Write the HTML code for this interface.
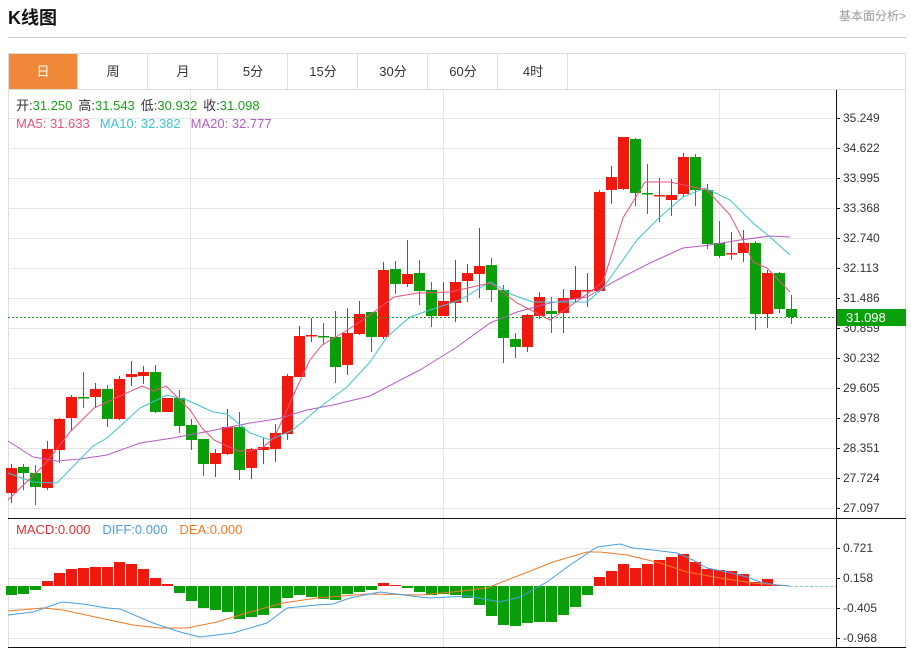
<!DOCTYPE html>
<html><head><meta charset="utf-8">
<style>
body{margin:0;background:#fff;width:911px;height:651px;overflow:hidden;font-family:"Liberation Sans","Noto Sans CJK SC",sans-serif;}
svg text{font-family:"Liberation Sans","Noto Sans CJK SC",sans-serif;}
</style></head><body>
<svg id="s" width="911" height="651" xmlns="http://www.w3.org/2000/svg">
<text x="8" y="24" font-size="18" font-weight="bold" fill="#111">K线图</text>
<text x="906" y="20" font-size="12" fill="#999" text-anchor="end">基本面分析&gt;</text>
<line x1="8" y1="37.5" x2="906" y2="37.5" stroke="#ccc"/>
<rect x="8.5" y="53.5" width="897" height="594" fill="none" stroke="#ddd"/>
<rect x="9" y="54" width="68" height="35" fill="#f0883a"/>
<g font-size="13" fill="#333" text-anchor="middle">
<text x="43" y="76" fill="#fff">日</text><text x="113" y="76">周</text><text x="183" y="76">月</text><text x="253" y="76">5分</text><text x="323" y="76">15分</text><text x="393" y="76">30分</text><text x="463" y="76">60分</text><text x="533" y="76">4时</text>
</g>
<g stroke="#ddd"><line x1="77.5" y1="54" x2="77.5" y2="89"/><line x1="147.5" y1="54" x2="147.5" y2="89"/><line x1="217.5" y1="54" x2="217.5" y2="89"/><line x1="287.5" y1="54" x2="287.5" y2="89"/><line x1="357.5" y1="54" x2="357.5" y2="89"/><line x1="427.5" y1="54" x2="427.5" y2="89"/><line x1="497.5" y1="54" x2="497.5" y2="89"/><line x1="567.5" y1="54" x2="567.5" y2="89"/><line x1="8" y1="89.5" x2="906" y2="89.5"/></g>
<g id="g"></g>
<g font-size="13">
<text x="16" y="110"><tspan fill="#333">开:</tspan><tspan fill="#1a9e1a">31.250</tspan><tspan fill="#333" dx="6">高:</tspan><tspan fill="#1a9e1a">31.543</tspan><tspan fill="#333" dx="6">低:</tspan><tspan fill="#1a9e1a">30.932</tspan><tspan fill="#333" dx="6">收:</tspan><tspan fill="#1a9e1a">31.098</tspan></text>
<text x="16" y="128"><tspan fill="#e8507f">MA5: 31.633</tspan><tspan fill="#3cc3d3" dx="10">MA10: 32.382</tspan><tspan fill="#b45cc4" dx="10">MA20: 32.777</tspan></text>
<text x="16" y="534"><tspan fill="#e03030">MACD:0.000</tspan><tspan fill="#4a9ee0" dx="12">DIFF:0.000</tspan><tspan fill="#f07a28" dx="12">DEA:0.000</tspan></text>
</g>
</svg>
<script>
var g=document.getElementById('g'),h='';
function L(x1,y1,x2,y2,c,extra){h+='<line x1="'+x1+'" y1="'+y1+'" x2="'+x2+'" y2="'+y2+'" stroke="'+c+'" '+(extra||'')+'/>';}
// grids
for(var i=0;i<14;i++){var y=118+i*30;L(8,y+.5,836,y+.5,'#e6e6e6');}
[548,578,608,638].forEach(function(y){L(8,y+.5,836,y+.5,'#e6e6e6');});
[190,443,719].forEach(function(x){L(x+.5,90,x+.5,648,'#e6e6e6');});
L(8,518.5,906,518.5,'#111');L(8,647.5,906,647.5,'#111');
L(836.5,90,836.5,648,'#111');
var labs=['35.249','34.622','33.995','33.368','32.740','32.113','31.486','30.859','30.232','29.605','28.978','28.351','27.724','27.097'];
labs.forEach(function(t,i){var y=118+i*30;L(836,y+.5,840,y+.5,'#111');h+='<text x="843" y="'+(y+4)+'" font-size="12" fill="#333">'+t+'</text>';});
[['0.721',548],['0.158',578],['-0.405',608],['-0.968',638]].forEach(function(a){L(836,a[1]+.5,840,a[1]+.5,'#111');h+='<text x="843" y="'+(a[1]+4)+'" font-size="12" fill="#333">'+a[0]+'</text>';});
// candles: [bodyTop, bodyBottom, high, low, red?]
var C=[[468,493,464,503,1],[467,473,464,490,0],[473,487,465,505,0],[449,488,441,490,1],[419,450,418,463,1],[397,418,395,431,1],[397,397,372,408,0],[389,397,383,408,1],[389,419,385,427,0],[379,419,376,420,1],[374,377,361,386,1],[372,376,366,384,1],[372,412,365,413,0],[398,412,398,412,1],[398,426,390,433,0],[425,440,419,450,0],[439,464,439,476,0],[453,464,449,477,1],[427,454,409,455,1],[427,470,412,480,0],[449,468,448,479,1],[447,450,438,464,1],[433,449,424,462,1],[376,434,374,440,1],[336,377,326,377,1],[335,335,318,342,1],[336,336,323,345,0],[337,367,311,383,0],[333,365,308,375,1],[314,334,301,335,1],[312,337,312,352,0],[270,337,262,339,1],[269,284,261,294,0],[274,284,240,287,1],[273,291,260,305,0],[290,316,282,327,0],[301,316,282,316,1],[282,303,260,322,1],[273,281,264,302,1],[266,274,228,298,1],[265,290,258,302,0],[290,338,285,363,0],[339,347,333,358,0],[315,347,314,352,1],[297,316,292,319,1],[311,314,297,333,0],[298,313,289,333,1],[290,299,266,302,1],[290,290,273,307,1],[192,291,190,292,1],[177,190,166,204,1],[137,189,137,190,1],[139,193,138,206,0],[193,193,164,214,0],[195,195,178,222,1],[195,200,179,216,1],[157,194,153,197,1],[157,190,154,206,0],[190,244,184,249,0],[243,256,221,258,0],[253,253,232,260,1],[243,253,230,262,1],[243,314,241,330,0],[273,314,270,328,1],[273,309,272,313,0],[309,317,295,324,0]];
C.forEach(function(c,i){var x=11+i*12,col=c[4]?'#f0190f':'#0a9e0a';L(x+.5,c[2],x+.5,c[3],col);var bh=Math.max(c[1]-c[0],1.5);h+='<rect x="'+(x-5)+'" y="'+c[0]+'" width="11" height="'+bh+'" fill="'+col+'"/>';});
function P(pts,c){h+='<polyline fill="none" stroke="'+c+'" stroke-width="1" points="'+pts+'"/>';}
P('8,441 33,457 57,461 80,459 107,455 140,443 173,438 210,431 250,423 277,419 307,410 333,405 370,396 410,375 420,370 457,347 490,323 517,312 550,303 587,297 617,280 650,263 683,248 710,245 740,240 770,236 790,237','#b45cc4');
P('8,473 33,482 57,483 93,446 107,438 140,408 167,395 187,400 213,412 227,414 250,433 270,440 293,430 320,407 347,387 370,362 387,337 410,317 430,310 460,300 490,282 513,295 533,302 567,302 587,302 603,288 637,240 660,217 683,197 705,188 730,200 753,223 770,237 790,255','#3cc3d3');
P('8,500 46,463 70,432 94,408 118,397 142,386 154,391 166,386 190,410 202,428 214,440 238,451 250,451 262,448 274,438 286,412 298,385 310,360 322,345 346,331 370,315 394,297 418,293 450,292 490,283 517,303 550,320 583,297 603,282 623,218 645,182 670,182 693,187 707,190 730,215 743,240 753,262 767,268 790,292','#e8507f');
// price line & label
L(8,317.5,836,317.5,'#1a9e1a','stroke-dasharray="2,2"');
h+='<rect x="837" y="309" width="69" height="17" fill="#0aa00a"/><text x="846" y="322" font-size="13" fill="#fff">31.098</text>';
// MACD
var M=[595,594,590,581,573,569,568,567,567,562,564,569,578,584,593,601,608,610,612,619,617,615,608,598,595,597,599,600,594,592,590,583,585,588,592,595,594,595,598,605,616,625,626,623,622,622,615,607,595,577,571,564,568,564,560,557,554,562,569,570,571,574,582,579,585,586];
var Z=586;
M.forEach(function(y,i){var x=11+i*12;if(Math.abs(y-Z)<.5)return;var col=y<Z?'#f0190f':'#0a9e0a';h+='<rect x="'+(x-5)+'" y="'+Math.min(y,Z)+'" width="11" height="'+Math.abs(y-Z)+'" fill="'+col+'"/>';});
L(790,586.5,836,586.5,'#8cc4ec','stroke-dasharray="3,2"');
P('8,611 43,608 63,610 100,618 133,625 160,628 187,628 217,622 250,612 283,603 317,598 367,594 420,595 453,592 487,588 520,575 553,562 587,552 600,552 627,555 660,563 687,572 720,578 753,583 790,586','#f07a28');
P('8,615 33,612 62,602 83,604 107,608 120,609 153,623 180,632 200,637 233,633 267,623 287,608 317,605 333,604 350,598 380,592 420,597 430,598 467,596 500,602 520,597 547,582 570,565 597,547 620,544 633,548 653,550 677,553 693,560 707,568 727,572 747,577 760,582 777,585 790,586','#4a9ee0');
g.innerHTML=h;
</script>
</body></html>
